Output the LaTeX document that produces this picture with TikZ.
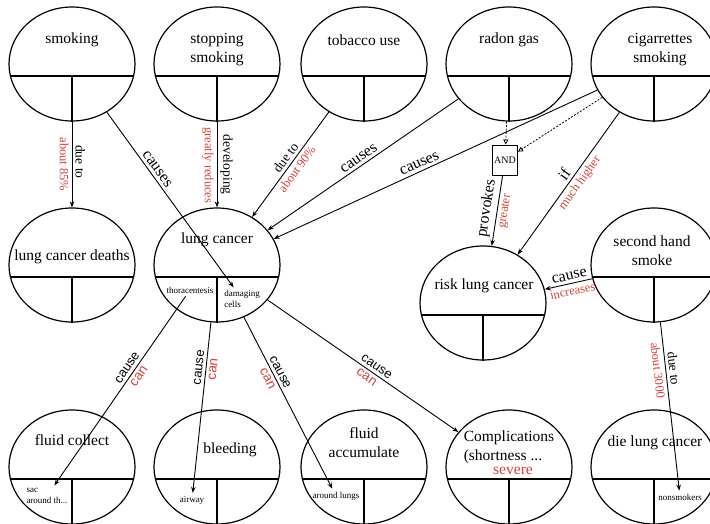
\documentclass[tikz,border=0pt]{standalone}
\usepackage{fontspec}
\setmainfont{Liberation Serif}
\newfontfamily\arialfont{Liberation Sans}
\usetikzlibrary{shapes.geometric,arrows.meta}
\definecolor{lblred}{RGB}{214,64,52}
\tikzset{
  cell/.style={ellipse,draw,line width=1.2pt,minimum width=126pt,minimum height=114pt,inner sep=0pt},
  title/.style={font=\fontsize{15.5}{19}\selectfont,align=center,inner sep=0pt},
  sub/.style={font=\fontsize{9}{10.5}\selectfont,align=left,inner sep=3pt},
  link/.style={line width=0.9pt,-{Stealth[length=6pt,width=4.5pt]}},
  gate/.style={line width=0.8pt,dash pattern=on 2pt off 1.5pt,-{Triangle[open,length=5pt,width=5pt]}},
  lb/.style={font=\fontsize{13.5}{15}\selectfont,sloped,above,inner sep=3pt},
  lbig/.style={font=\fontsize{16}{18}\selectfont,sloped,above,inner sep=3pt},
  lr/.style={font=\fontsize{12.5}{14}\selectfont,sloped,below,inner sep=3pt,text=lblred},
  lbs/.style={font=\arialfont\fontsize{13}{15}\selectfont,sloped,above,inner sep=3pt},
  lrs/.style={font=\arialfont\fontsize{13.5}{15}\selectfont,sloped,below,inner sep=3pt,text=lblred}
}
\begin{document}
\begin{tikzpicture}[x=1pt,y=-1pt]
\useasboundingbox (0,0) rectangle (710,524);
\clip (0,0) rectangle (710,524);
\node[cell] (smk) at (72,64) {};
\node[cell] (stop) at (217,64) {};
\node[cell] (tob) at (364,64) {};
\node[cell] (radon) at (509,64) {};
\node[cell] (cig) at (654,64) {};
\node[cell] (lcd) at (72,265) {};
\node[cell] (lc) at (217,265) {};
\node[cell] (risk) at (483,303) {};
\node[cell] (sh) at (654,265) {};
\node[cell] (fluid) at (72,467) {};
\node[cell] (bleed) at (217,467) {};
\node[cell] (accum) at (364,467) {};
\node[cell] (comp) at (509,467) {};
\node[cell] (die) at (654,467) {};
\foreach \n in {smk,stop,tob,radon,cig,lcd,lc,risk,sh,fluid,bleed,accum,comp,die}{
  \draw[line width=1.2pt] ([xshift=-61.6pt,yshift=-12pt]\n.center) -- ([xshift=61.6pt,yshift=-12pt]\n.center);
  \draw[line width=1.2pt] ([yshift=-12pt]\n.center) -- (\n.south);
}
\node[title] (smkt) at (72,40) {smoking};
\node[title] (stopt) at (217,49.5) {stopping\\smoking};
\node[title] (tobt) at (364,40) {tobacco use};
\node[title] (radont) at (509,40) {radon gas};
\node[title] (cigt) at (660,49.5) {cigarrettes\\smoking};
\node[title] (lcdt) at (72,257) {lung cancer deaths};
\node[title] (lct) at (217,240) {lung cancer};
\node[title] (riskt) at (484,286) {risk lung cancer};
\node[title] (sht) at (652,250.5) {second hand\\smoke};
\node[title] (fluidt) at (72,440) {fluid collect};
\node[title] (bleedt) at (230,450) {bleeding};
\node[title] (accumt) at (364,442.5) {fluid\\accumulate};
\node[title,align=left] (compt) at (509,447) {Complications\\(shortness ...};
\node[title,text=lblred] (sev) at (513,471) {severe};
\node[title] (diet) at (655,443) {die lung cancer};
\node[sub] (thor) at (190,290) {thoracentesis};
\node[sub] (dmg) at (242,299) {damaging\\cells};
\node[sub] (sac) at (47,496) {sac\\around th...};
\node[sub] (airway) at (192,500) {airway};
\node[sub] (lungs) at (336,496) {around lungs};
\node[sub] (nonsm) at (680,497) {nonsmokers};
\node[draw,line width=0.9pt,minimum width=25pt,minimum height=30pt,inner sep=0pt,font=\fontsize{10}{12}\selectfont] (and) at (505,160) {AND};
\draw[link] (smk) -- (lcd) node[lb,pos=.47]{due to} node[lr,pos=.5]{about 85\%};
\draw[link] (stop) -- (lc) node[lb,pos=.5]{developing} node[lr,pos=.51]{greatly reduces};
\draw[link] (smk) -- (dmg) node[lbig,pos=.35]{causes};
\draw[link] (tob) -- (lc) node[lb,pos=.48]{due to} node[lr,pos=.5]{about 90\%};
\draw[link] (radon) -- (lc) node[lbig,pos=.5]{causes};
\draw[link] (cig) -- (lc) node[lbig,pos=.54]{causes};
\draw[gate] (radon) -- (and);
\draw[gate] (cig) -- (and);
\draw[link] (and) -- (risk) node[lbig,pos=.49]{provokes} node[lr,pos=.49]{greater};
\draw[link] (cig) -- (risk) node[lbig,pos=.47]{if} node[lr,pos=.46]{much higher};
\draw[link] (sh) -- (risk) node[lbig,pos=.45]{cause} node[lr,pos=.45]{increases};
\draw[link] (sh) -- (nonsm) node[lb,pos=.28]{due to} node[lr,pos=.28]{about 3000};
\draw[link] (thor) -- (sac) node[lbs,pos=.4]{cause} node[lrs,pos=.4]{can};
\draw[link] (lc) -- (airway) node[lbs,pos=.27]{cause} node[lrs,pos=.27]{can};
\draw[link] (lc) -- (lungs) node[lbs,pos=.34]{cause} node[lrs,pos=.34]{can};
\draw[link] (lc) -- (comp) node[lbs,pos=.55]{cause} node[lrs,pos=.54]{can};
\end{tikzpicture}
\end{document}
